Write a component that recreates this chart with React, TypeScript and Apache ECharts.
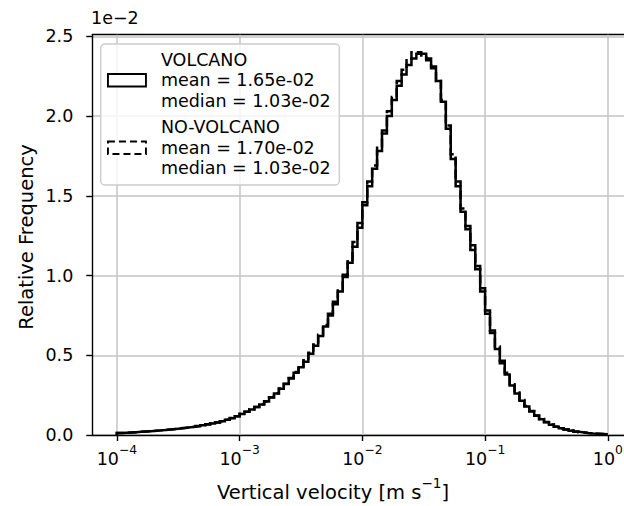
import React, { useEffect, useRef } from 'react';
import * as echarts from 'echarts';

const FONT = "'DejaVu Sans', 'Noto Sans', sans-serif";

// Histogram bins: log10 edges start and step (100 log-uniform bins 1e-4 .. 1e0)
const BIN_EXP_START = -4;
const BIN_EXP_STEP = 0.04;
// Axis runs in log10 space shifted by this offset
const X_OFFSET = 5;

// Relative frequency per bin (x 1e-2)
const volcano = [
  0.012, 0.014, 0.016, 0.018, 0.020, 0.022, 0.024, 0.026, 0.029, 0.032,
  0.035, 0.038, 0.041, 0.044, 0.048, 0.052, 0.056, 0.061, 0.066, 0.072,
  0.078, 0.086, 0.095, 0.105, 0.118, 0.132, 0.146, 0.160, 0.175, 0.192,
  0.210, 0.235, 0.260, 0.290, 0.320, 0.355, 0.390, 0.425, 0.460, 0.510,
  0.560, 0.620, 0.680, 0.750, 0.820, 0.900, 0.990, 1.080, 1.180, 1.300,
  1.440, 1.560, 1.670, 1.780, 1.890, 2.000, 2.100, 2.190, 2.260, 2.320,
  2.360, 2.390, 2.390, 2.360, 2.310, 2.220, 2.090, 1.920, 1.730, 1.560,
  1.400, 1.290, 1.160, 1.040, 0.900, 0.760, 0.640, 0.540, 0.450, 0.380,
  0.310, 0.260, 0.215, 0.178, 0.148, 0.120, 0.098, 0.080, 0.064, 0.052,
  0.042, 0.034, 0.027, 0.021, 0.017, 0.013, 0.010, 0.008, 0.006, 0.004,
];

const noVolcano = [
  0.012, 0.014, 0.016, 0.018, 0.020, 0.022, 0.024, 0.027, 0.029, 0.032,
  0.035, 0.038, 0.042, 0.045, 0.048, 0.052, 0.057, 0.061, 0.067, 0.072,
  0.079, 0.087, 0.095, 0.106, 0.118, 0.133, 0.146, 0.162, 0.176, 0.193,
  0.212, 0.236, 0.262, 0.292, 0.322, 0.358, 0.395, 0.430, 0.468, 0.515,
  0.568, 0.628, 0.690, 0.760, 0.835, 0.915, 1.005, 1.100, 1.210, 1.330,
  1.460, 1.590, 1.690, 1.810, 1.910, 2.030, 2.120, 2.220, 2.290, 2.350,
  2.400, 2.400, 2.380, 2.350, 2.300, 2.220, 2.100, 1.940, 1.760, 1.590,
  1.420, 1.310, 1.190, 1.060, 0.920, 0.780, 0.655, 0.555, 0.465, 0.390,
  0.318, 0.266, 0.220, 0.182, 0.150, 0.123, 0.100, 0.082, 0.066, 0.053,
  0.043, 0.035, 0.028, 0.022, 0.017, 0.013, 0.010, 0.008, 0.006, 0.004,
];

const xTickExps = [-4, -3, -2, -1, 0];
const yTicks = [0, 0.5, 1.0, 1.5, 2.0, 2.5];
const seriesNames = ['VOLCANO', 'NO-VOLCANO'];
const seriesMeans = ['1.65e-02', '1.70e-02'];
const seriesMedians = ['1.03e-02', '1.03e-02'];

function edge(i: number) {
  return +(BIN_EXP_START + BIN_EXP_STEP * i + X_OFFSET).toFixed(4);
}

function stepPoints(h: number[]) {
  const pts: number[][] = [[edge(0), 0]];
  h.forEach((v, i) => {
    pts.push([edge(i), v]);
    pts.push([edge(i + 1), v]);
  });
  pts.push([edge(h.length), 0]);
  return pts;
}

const MINUS = '\u2212';

export default function App() {
  const ref = useRef<HTMLDivElement>(null);
  useEffect(() => {
    if (!ref.current) return;
    const chart = echarts.init(ref.current, undefined, { renderer: 'svg' });
    const fs = 17.5;
    const fsLabel = 19.5;
    const spine = { color: '#000', width: 1.4 };
    const gridLine = { color: '#c4c4c4', width: 1.5 };
    const xTicks = xTickExps.map((e) => e + X_OFFSET);
    const xMin = -4.2 + X_OFFSET;
    const xMax = 0.2 + X_OFFSET;
    const option: any = {
      animation: false,
      backgroundColor: '#ffffff',
      grid: {
        left: 92.3,
        top: 34.7,
        right: -8.4,
        bottom: 71,
        show: false,
        outerBoundsMode: 'none',
      },
      xAxis: [
        {
          type: 'value',
          min: xMin,
          max: xMax,
          position: 'bottom',
          axisLine: { show: true, onZero: false, lineStyle: spine },
          axisTick: { show: true, inside: false, length: 6, lineStyle: spine, customValues: xTicks },
          splitLine: { show: false },
          axisLabel: {
            customValues: xTicks,
            margin: 9,
            color: '#000',
            fontFamily: FONT,
            formatter: (v: number) => {
              const e = Math.round(v - X_OFFSET);
              return `{b|10}{s|${e < 0 ? MINUS + Math.abs(e) : String(e)}}`;
            },
            rich: {
              b: { fontSize: fs, fontFamily: FONT, color: '#000', lineHeight: 24, verticalAlign: 'bottom' },
              s: { fontSize: 12.3, fontFamily: FONT, color: '#000', lineHeight: 24, verticalAlign: 'top' },
            },
          },
        },
        {
          type: 'value',
          min: xMin,
          max: xMax,
          position: 'top',
          axisLine: { show: true, onZero: false, lineStyle: spine },
          axisTick: { show: false },
          splitLine: { show: false },
          axisLabel: { show: false },
        },
      ],
      yAxis: {
        type: 'value',
        min: 0,
        max: 2.51,
        axisLine: { show: true, onZero: false, lineStyle: spine },
        axisTick: { show: true, inside: false, length: 6, lineStyle: spine, customValues: yTicks },
        splitLine: { show: true, lineStyle: gridLine },
        axisLabel: {
          customValues: yTicks,
          margin: 19,
          color: '#000',
          fontSize: fs,
          fontFamily: FONT,
          formatter: (v: number) => v.toFixed(1),
        },
      },
      legend: {
        orient: 'vertical',
        left: 100.7,
        top: 44,
        itemWidth: 38,
        itemHeight: 12.5,
        itemGap: 6,
        padding: [5.5, 8.7, 6.5, 6.3],
        backgroundColor: 'rgba(255,255,255,0.8)',
        borderColor: '#cccccc',
        borderWidth: 1.4,
        borderRadius: 4,
        selectedMode: false,
        z: 10,
        textStyle: { fontFamily: FONT, fontSize: fs, lineHeight: 20.5, color: '#000', padding: [0, 0, 0, 10] },
        formatter: (name: string) => {
          const i = seriesNames.indexOf(name);
          return `${name}\nmean = ${seriesMeans[i]}\nmedian = ${seriesMedians[i]}`;
        },
        data: [
          { name: seriesNames[0], icon: 'rect', itemStyle: { color: '#fff', borderColor: '#000', borderWidth: 1.9, borderType: 'solid' } },
          { name: seriesNames[1], icon: 'rect', itemStyle: { color: '#fff', borderColor: '#000', borderWidth: 1.9, borderType: [7, 4] } },
        ],
      },
      graphic: [
        {
          type: 'text',
          x: 91,
          y: 18,
          style: { text: `1e${MINUS}2`, fontSize: fs, fontFamily: FONT, fill: '#000', align: 'left', verticalAlign: 'middle' },
        },
        {
          type: 'text',
          x: 26,
          y: 237,
          rotation: Math.PI / 2,
          style: { text: 'Relative Frequency', fontSize: fsLabel, fontFamily: FONT, fill: '#000', align: 'center', verticalAlign: 'middle' },
        },
        {
          type: 'text',
          x: 333,
          y: 489,
          style: {
            text: `{b|Vertical velocity [m s}{s|${MINUS}1}{b|]}`,
            align: 'center',
            verticalAlign: 'middle',
            rich: {
              b: { fontSize: fsLabel, fontFamily: FONT, fill: '#000', lineHeight: 26, verticalAlign: 'bottom' },
              s: { fontSize: 13.6, fontFamily: FONT, fill: '#000', lineHeight: 26, verticalAlign: 'top' },
            },
          },
        },
      ],
      series: [
        {
          name: 'xgrid',
          type: 'line',
          data: [],
          silent: true,
          z: 1,
          markLine: {
            silent: true,
            z: 1,
            symbol: 'none',
            animation: false,
            label: { show: false },
            lineStyle: { color: gridLine.color, width: gridLine.width, type: 'solid' },
            emphasis: { disabled: true },
            data: xTicks.map((v) => ({ xAxis: v })),
          },
        },
        {
          name: seriesNames[0],
          type: 'line',
          data: stepPoints(volcano),
          showSymbol: false,
          symbol: 'none',
          lineStyle: { color: '#000', width: 2.5, join: 'miter', cap: 'butt' },
          itemStyle: { color: '#000' },
          z: 3,
        },
        {
          name: seriesNames[1],
          type: 'line',
          data: stepPoints(noVolcano),
          showSymbol: false,
          symbol: 'none',
          lineStyle: { color: '#000', width: 2.5, type: [9, 4], join: 'miter', cap: 'butt' },
          itemStyle: { color: '#000' },
          z: 4,
        },
      ],
    };
    chart.setOption(option);
    return () => chart.dispose();
  }, []);
  return (
    <div
      ref={ref}
      style={{ position: 'fixed', left: 0, top: 0, width: 624, height: 506 }}
    />
  );
}
